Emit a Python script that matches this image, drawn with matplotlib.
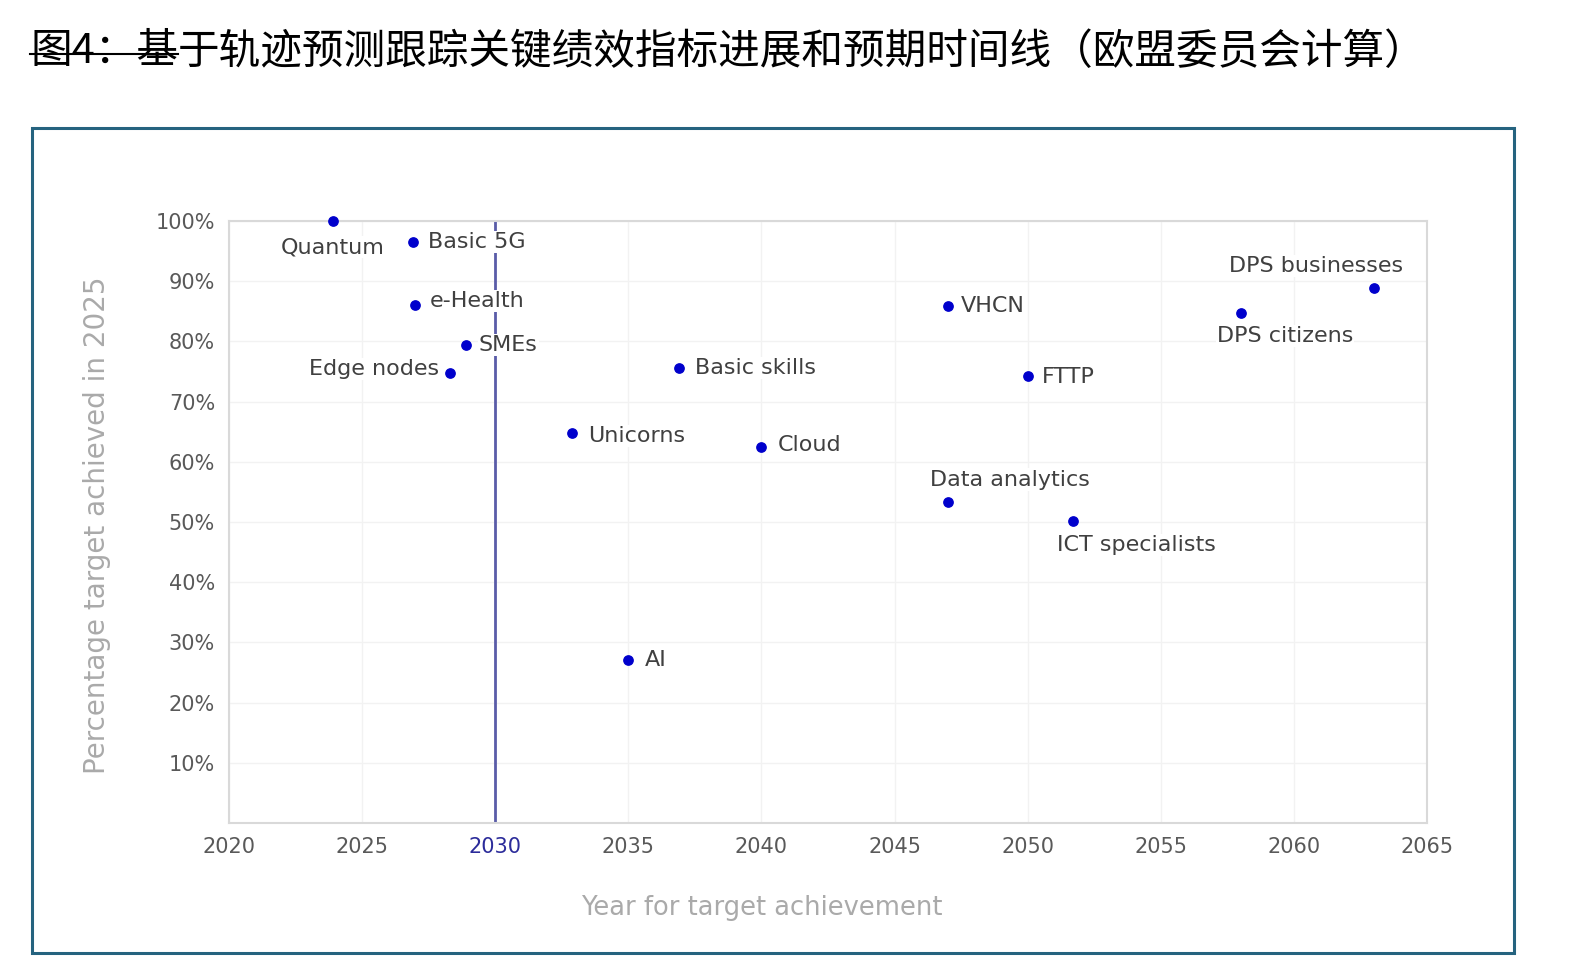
import numpy as np
import matplotlib.pyplot as plt
from matplotlib.patches import Rectangle
from matplotlib.lines import Line2D

# KPI data
names = ["Quantum", "Basic 5G", "e-Health", "SMEs", "Edge nodes", "Unicorns", "AI",
         "Basic skills", "Cloud", "VHCN", "Data analytics", "FTTP", "ICT specialists",
         "DPS citizens", "DPS businesses"]
years = [2023.9, 2026.9, 2027.0, 2028.9, 2028.3, 2032.9, 2035.0,
         2036.9, 2040.0, 2047.0, 2047.0, 2050.0, 2051.7, 2058.0, 2063.0]
share = [100.0, 96.5, 86.1, 79.4, 74.8, 64.8, 27.0,
         75.6, 62.5, 85.9, 53.4, 74.3, 50.2, 84.7, 88.9]

xticks = list(range(2020, 2066, 5))
yticks = list(range(10, 101, 10))
target_year = 2030

title_struck = "图4：基"
title_rest = "于轨迹预测跟踪关键绩效指标进展和预期时间线（欧盟委员会计算）"

# label placement (pixel offsets, alignment)
label_pos = [(0, -26, "center"), (15, 0, "left"), (14, 4, "left"), (13, 0, "left"),
             (-11, 4, "right"), (16, -3, "left"), (16, 0, "left"), (16, 0, "left"),
             (16, 2, "left"), (13, 0, "left"), (-18, 22, "left"), (14, -1, "left"),
             (-16, -24, "left"), (-24, -23, "left"), (29, 22, "right")]

W, H = 1570, 975
fig = plt.figure(figsize=(W / 100, H / 100), dpi=100)
fig.patch.set_facecolor("white")

# outer frame
fig.patches.append(Rectangle((32 / W, 1 - 953 / H), (1514 - 32) / W, (953 - 128) / H,
                             transform=fig.transFigure, fill=False,
                             edgecolor="#25637f", linewidth=2.2))

ax = fig.add_axes([229 / W, 1 - 823 / H, (1427 - 229) / W, (823 - 221) / H])
ax.set_xlim(2020, 2065)
ax.set_ylim(0, 100)
ax.set_xticks(xticks)
ax.set_yticks(yticks)
ax.set_yticklabels([f"{v}%" for v in yticks])
ax.grid(True, color="#f2f2f2", linewidth=1.0)
ax.set_axisbelow(True)
for s in ax.spines.values():
    s.set_color("#d9d9d9")
    s.set_linewidth(1.5)
ax.tick_params(length=0, labelsize=15, labelcolor="#595959", pad=10)
for lab in ax.get_xticklabels():
    if lab.get_text() == str(target_year):
        lab.set_color("#2b2b9a")

ax.axvline(target_year, color="#5a5ca8", linewidth=2.0, zorder=2)

ax.scatter(years, share, s=45, color="#0000cc", zorder=5, clip_on=False)
for n, x, y, (dx, dy, ha) in zip(names, years, share, label_pos):
    ax.annotate(n, (x, y), xytext=(dx, dy), textcoords="offset pixels",
                ha=ha, va="center", fontsize=16, color="#404040", zorder=4,
                bbox=dict(boxstyle="square,pad=0.05", fc="white", ec="none"))

fig.text(762 / W, 1 - 908 / H, "Year for target achievement", fontsize=18.5,
         color="#aaaaaa", ha="center", va="center")
fig.text(97 / W, 1 - 525 / H, "Percentage target achieved in 2025", fontsize=20,
         color="#aaaaaa", ha="center", va="center", rotation=90)

# title with the struck-through prefix
tfont = dict(fontsize=30, family=["Noto Sans CJK SC", "DejaVu Sans"], color="black", va="center")
t1 = fig.text(30 / W, 1 - 52 / H, title_struck, ha="left", **tfont)
fig.canvas.draw()
bb = t1.get_window_extent().transformed(fig.transFigure.inverted())
fig.text(bb.x1, 1 - 52 / H, title_rest, ha="left", **tfont)
fig.lines.append(Line2D([bb.x0, bb.x1], [1 - 54 / H, 1 - 54 / H], transform=fig.transFigure,
                        color="black", linewidth=1.5))

fig.savefig("out.png", dpi=100)
